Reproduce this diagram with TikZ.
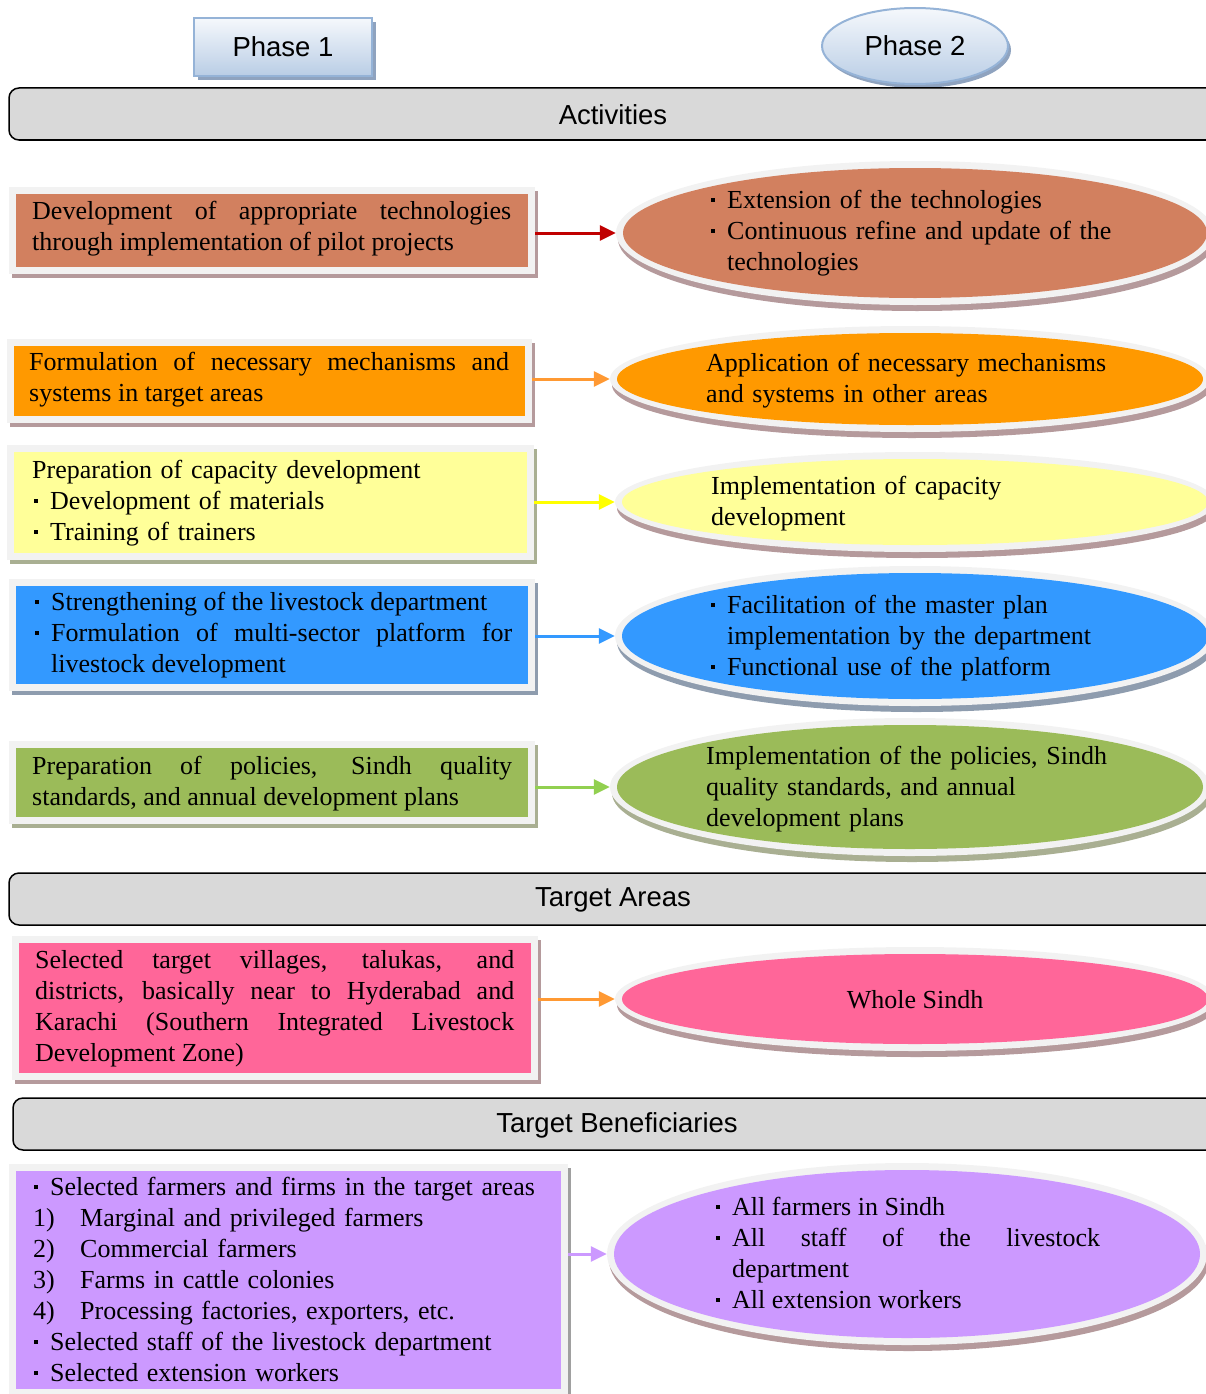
\documentclass[tikz,border=0pt]{standalone}
\usepackage{fontspec}
\setmainfont{Liberation Serif}
\newfontfamily\hdfont{Liberation Sans}
\usetikzlibrary{arrows.meta,shapes.geometric}
\definecolor{c1}{HTML}{D2805F}
\definecolor{c2}{HTML}{FF9900}
\definecolor{c3}{HTML}{FFFF99}
\definecolor{c4}{HTML}{3399FF}
\definecolor{c5}{HTML}{9BBB59}
\definecolor{c6}{HTML}{FF6699}
\definecolor{c7}{HTML}{CC99FF}
\definecolor{a1}{HTML}{C00000}
\definecolor{a2}{HTML}{FF9933}
\definecolor{a3}{HTML}{FFFF00}
\definecolor{a4}{HTML}{3399FF}
\definecolor{a5}{HTML}{92D050}
\definecolor{a6}{HTML}{FF9933}
\definecolor{a7}{HTML}{CC99FF}
\definecolor{framegray}{HTML}{F2F2F2}
\definecolor{hdrgray}{HTML}{D9D9D9}
\definecolor{shRose}{HTML}{B59A9C}
\definecolor{shOlive}{HTML}{A9AF92}
\definecolor{shBlue}{HTML}{8E9CAE}
\definecolor{shGray}{HTML}{A0A0A0}
\definecolor{phTop}{HTML}{F5F8FC}
\definecolor{phBot}{HTML}{B9CDE5}
\definecolor{phBorder}{HTML}{95B3D7}
\definecolor{phShadow}{HTML}{8FA3BF}
\newcommand\bul{\strut\makebox[18pt][l]{\kern2pt\rule[7pt]{3.5pt}{3.5pt}}}
\newcommand\bfirst{\noindent\hangindent=18pt\hangafter=1\bul}
\newcommand\bitem{\par\noindent\hangindent=18pt\hangafter=1\bul}
\newcommand\numit[1]{\par\noindent\strut\makebox[48pt][l]{\kern1pt #1}}
\newcommand\lbox[7]{%
  \fill[#7] (#2-7+3,#3-7+4) rectangle (#4+7+3,#5+7+4);
  \node[fill=framegray, inner sep=0pt, minimum width={#4-#2+14}, minimum height={#5-#3+14}] (#1) at ({(#2+#4)/2},{(#3+#5)/2}) {};
  \fill[#6] (#2,#3) rectangle (#4,#5);
}
\newcommand\rell[7]{%
  \fill[#7] (#2+2,#3+6) ellipse [x radius=#4+7, y radius=#5+7];
  \node[ellipse, fill=framegray, inner sep=0pt, minimum width={2*(#4+7)}, minimum height={2*(#5+7)}] (#1) at (#2,#3) {};
  \fill[#6] (#2,#3) ellipse [x radius=#4, y radius=#5];
}
\begin{document}
\begin{tikzpicture}[x=1pt,y=-1pt,
  txt/.style={anchor=north west, inner sep=0pt, font=\fontsize{26}{31}\selectfont},
  hdr/.style={draw=black, line width=1.5pt, fill=hdrgray, rounded corners=10pt},
  hdrtext/.style={font=\hdfont\fontsize{27.5}{33}\selectfont, inner sep=0pt},
  arr/.style={line width=3pt, -{Triangle[length=16pt,width=15pt]}},
]
\useasboundingbox (0,0) rectangle (1206,1394);
\clip (0,0) rectangle (1206,1394);

% Phase headers
\fill[phShadow] (198,22) rectangle (376,80);
\node[draw=phBorder, line width=2pt, top color=phTop, bottom color=phBot,
  minimum width=178pt, minimum height=58pt, inner sep=0pt,
  font=\hdfont\fontsize{27.5}{33}\selectfont] (p1) at (283,47) {Phase 1};
\fill[phShadow] (918,50) ellipse [x radius=93, y radius=38];
\node[ellipse, draw=phBorder, line width=2pt, top color=phTop, bottom color=phBot,
  minimum width=186pt, minimum height=76pt, inner sep=0pt,
  font=\hdfont\fontsize{27.5}{33}\selectfont] (p2) at (915,46) {Phase 2};

% Section bars
\draw[hdr] (9,88) rectangle (1240,140);
\node[hdrtext] (hA) at (613,115) {Activities};
\draw[hdr] (9,873) rectangle (1240,925);
\node[hdrtext] (hT) at (613,900) {Target Areas};
\draw[hdr] (13,1098) rectangle (1240,1150);
\node[hdrtext] (hB) at (617,1125) {Target Beneficiaries};

% Left boxes
\lbox{b1}{16}{194}{528}{267}{c1}{shRose}
\lbox{b2}{14}{346}{525}{416}{c2}{shRose}
\lbox{b3}{14}{452}{527}{553}{c3}{shOlive}
\lbox{b4}{16}{586}{528}{684}{c4}{shBlue}
\lbox{b5}{16}{748}{528}{817}{c5}{shOlive}
\lbox{b6}{19}{943}{531}{1073}{c6}{shRose}
\lbox{b7}{16}{1171}{561}{1389}{c7}{shGray}

% Right ellipses
\rell{e1}{915}{233}{292}{65}{c1}{shRose}
\rell{e2}{910}{379}{293}{46}{c2}{shRose}
\rell{e3}{915}{502}{293}{43}{c3}{shRose}
\rell{e4}{915}{636}{293}{63}{c4}{shBlue}
\rell{e5}{910}{787}{293}{62}{c5}{shOlive}
\rell{e6}{915}{999}{293}{45}{c6}{shRose}
\rell{e7}{907}{1254}{293}{84}{c7}{shRose}

% Left texts
\node[txt, text width=479pt, align=justify] (t1) at (32,198)
  {\strut Development of appropriate technologies\linebreak through implementation of pilot projects\par};
\node[txt, text width=480pt, align=justify] (t2) at (29,349)
  {\strut Formulation of necessary mechanisms and\linebreak systems in target areas\par};
\node[txt, text width=490pt, align=left] (t3) at (32,457)
  {\strut Preparation of capacity development\bitem Development of materials\bitem Training of trainers\par};
\node[txt, text width=479pt, align=justify] (t4) at (33,589)
  {\bfirst Strengthening of the livestock department\bitem Formulation of multi-sector platform for\linebreak livestock development\par};
\node[txt, text width=480pt, align=justify] (t5) at (32,753)
  {\strut Preparation of policies, Sindh quality\linebreak standards, and annual development plans\par};
\node[txt, text width=479pt, align=justify] (t6) at (35,947)
  {\strut Selected target villages, talukas, and\linebreak districts, basically near to Hyderabad and\linebreak Karachi (Southern Integrated Livestock\linebreak Development Zone)\par};
\node[txt, text width=520pt, align=left] (t7) at (32,1174)
  {\bfirst Selected farmers and firms in the target areas
   \numit{1)}Marginal and privileged farmers
   \numit{2)}Commercial farmers
   \numit{3)}Farms in cattle colonies
   \numit{4)}Processing factories, exporters, etc.
   \bitem Selected staff of the livestock department
   \bitem Selected extension workers\par};

% Right texts
\node[txt, text width=440pt, align=left] (r1) at (709,187)
  {\bfirst Extension of the technologies\bitem Continuous refine and update of the\linebreak technologies\par};
\node[txt, text width=440pt, align=left] (r2) at (706,350)
  {\strut Application of necessary mechanisms\\and systems in other areas\par};
\node[txt, text width=440pt, align=left] (r3) at (711,473)
  {\strut Implementation of capacity\\development\par};
\node[txt, text width=440pt, align=left] (r4) at (709,592)
  {\bfirst Facilitation of the master plan\linebreak implementation by the department\bitem Functional use of the platform\par};
\node[txt, text width=440pt, align=left] (r5) at (706,743)
  {\strut Implementation of the policies, Sindh\\quality standards, and annual\\development plans\par};
\node[inner sep=0pt, font=\fontsize{26}{31}\selectfont] (r6) at (915,1000) {Whole Sindh};
\node[txt, text width=386pt, align=justify] (r7) at (714,1194)
  {\bfirst All farmers in Sindh\bitem All staff of the livestock\linebreak department\bitem All extension workers\par};

% Arrows
\draw[arr, a1] (e1.west -| b1.east) -- (e1.west);
\draw[arr, a2] (e2.west -| b2.east) -- (e2.west);
\draw[arr, a3] (e3.west -| b3.east) -- (e3.west);
\draw[arr, a4] (e4.west -| b4.east) -- (e4.west);
\draw[arr, a5] (e5.west -| b5.east) -- (e5.west);
\draw[arr, a6] (e6.west -| b6.east) -- (e6.west);
\draw[arr, a7] (e7.west -| b7.east) -- (e7.west);
\end{tikzpicture}
\end{document}
